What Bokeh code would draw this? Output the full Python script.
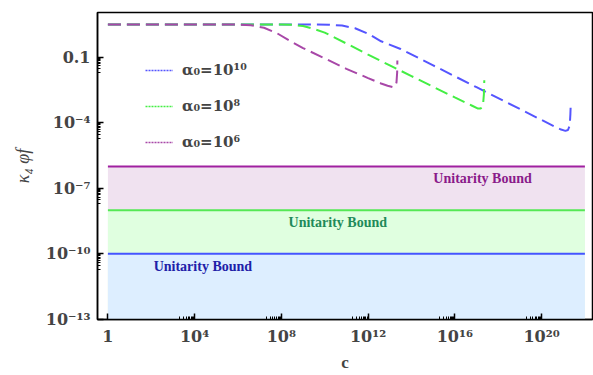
from bokeh.plotting import figure
from bokeh.models import (Range1d, FixedTicker, CustomJSTickFormatter,
                          Label, Legend, LegendItem)
from bokeh.embed import file_html
from bokeh.resources import INLINE

# ---- data ----
c_a10 = [1, 1e4, 1e8, 3.16e9, 1.58e10, 6.31e10, 2.51e11, 1e12, 3.98e12, 3.16e13,
         1e15, 1e17, 1e19, 3.98e20, 7.94e20, 1.26e21, 1.66e21, 2.0e21, 2.14e21, 2.24e21]
phi_a10 = [3.2, 3.2, 3.2, 3.16, 3.09, 2.82, 2.14, 1.2, 0.54, 0.24,
           0.0427, 4.27e-3, 4.27e-4, 6.76e-5, 4.9e-5, 4.27e-5, 4.68e-5, 7.59e-5, 2.51e-4, 8.9e-4]

c_a8 = [1, 1e4, 1e8, 3.16e8, 1e9, 3.16e9, 1e10, 2.51e10, 1e11, 1e12, 1e13, 1e14,
        1e15, 1e16, 6.31e16, 1.12e17, 1.58e17, 2.0e17, 2.19e17, 2.29e17]
phi_a8 = [3.2, 3.2, 3.2, 3.09, 2.69, 2.0, 1.35, 0.85, 0.427, 0.132, 0.0427, 0.0138,
          4.47e-3, 1.45e-3, 6.03e-4, 4.57e-4, 4.47e-4, 6.61e-4, 2.0e-3, 8.91e-3]

c_a6 = [1, 1e4, 1e6, 3.98e6, 1.58e7, 6.31e7, 2.51e8, 1e9, 1e10, 1e11, 1e12, 3.98e12,
        7.94e12, 1.35e13, 1.78e13, 2.04e13, 2.19e13, 2.24e13]
phi_a6 = [3.2, 3.2, 3.16, 2.95, 2.24, 1.26, 0.562, 0.263, 0.0891, 0.0295, 0.0112, 6.31e-3,
          5.01e-3, 4.37e-3, 4.68e-3, 7.08e-3, 0.02, 0.0708]

bound_levels = [1e-6, 1e-8, 1e-10]          # purple, green, blue
bound_x = [1, 1e22]
bound_floor = 9.9e-14
bound_text = "Unitarity Bound"
bound_text_x = [1.9e17, 4e10, 2.4e4]
bound_text_y = [2.7e-7, 2.6e-9, 2.6e-11]

legend_labels = ["α₀=10¹⁰", "α₀=10⁸", "α₀=10⁶"]

x_ticks = [1, 1e4, 1e8, 1e12, 1e16, 1e20]
x_tick_labels = ["1", "10⁴", "10⁸", "10¹²", "10¹⁶", "10²⁰"]
y_ticks = [1e-13, 1e-10, 1e-7, 1e-4, 0.1]
y_tick_labels = ["10⁻¹³", "10⁻¹⁰", "10⁻⁷", "10⁻⁴", "0.1"]

# ---- styles ----
curve_colors = ["#5555ff", "#44ee44", "#a848a8"]
line_colors = ["#a020a0", "#55e855", "#4455ff"]
fill_colors = ["#f0e2f0", "#e0ffe0", "#ddeeff"]
text_colors = ["#8a1a8a", "#1f8a5a", "#2020a8"]
sup_font = "DejaVu Serif"

p = figure(width=593, height=375, x_axis_type="log", y_axis_type="log",
           x_range=Range1d(10 ** -0.48, 10 ** 22.35),
           y_range=Range1d(bound_floor, 10 ** 1.05),
           output_backend="svg", toolbar_location=None,
           min_border_left=97, min_border_right=1, min_border_top=12, min_border_bottom=56)
p.grid.visible = False
p.outline_line_color = "black"
p.outline_line_width = 1.5
p.background_fill_color = "white"
p.border_fill_color = "white"

# bands
for lvl, fc in zip(bound_levels, fill_colors):
    p.varea(x=bound_x, y1=[bound_floor, bound_floor], y2=[lvl, lvl], fill_color=fc)
for lvl, lc in zip(bound_levels, line_colors):
    p.line(x=bound_x, y=[lvl, lvl], line_color=lc, line_width=2)

for tx, ty, tc in zip(bound_text_x, bound_text_y, text_colors):
    p.add_layout(Label(x=tx, y=ty, text=bound_text, text_color=tc,
                       text_font="Liberation Serif", text_font_style="bold",
                       text_font_size="14px", text_align="center", text_baseline="middle"))

# curves
for cx, cy, col in zip([c_a10, c_a8, c_a6], [phi_a10, phi_a8, phi_a6], curve_colors):
    p.line(x=cx, y=cy, line_color=col, line_width=2, line_dash="13 6")

# legend proxies (no visible data, only for the legend glyphs)
items = []
for lab, col in zip(legend_labels, curve_colors):
    r = p.line(x=[float("nan")], y=[float("nan")], line_color=col, line_width=1.3,
               line_dash="2 1")
    items.append(LegendItem(label=lab, renderers=[r]))
legend = Legend(items=items, location=(48, 167), orientation="vertical",
                background_fill_alpha=0, border_line_alpha=0,
                glyph_width=28, glyph_height=20, label_height=20, label_standoff=9,
                spacing=16, padding=0, margin=0,
                label_text_font=sup_font, label_text_font_style="bold",
                label_text_font_size="15px")
p.add_layout(legend)

# ticks
x_minor = [k * t / 10 for t in x_ticks[1:] for k in range(2, 10)]
y_minor = [k * t / 10 for t in y_ticks[1:] for k in range(2, 10)]

fmt_code = """
let best = -1, bd = 1e9;
for (let i = 0; i < tv.length; i++) {
  const d = Math.abs(Math.log10(tv[i]) - Math.log10(tick));
  if (d < bd) { bd = d; best = i; }
}
return (bd < 1e-3) ? tl[best] : "";
"""


def style_axis(ax, ticks, minor, labels):
    ax.ticker = FixedTicker(ticks=ticks, minor_ticks=minor)
    ax.formatter = CustomJSTickFormatter(args=dict(tv=ticks, tl=labels), code=fmt_code)
    ax.major_tick_in = 6
    ax.major_tick_out = 0
    ax.minor_tick_in = 3
    ax.minor_tick_out = 0
    ax.axis_line_width = 1.5
    ax.axis_line_color = "black"
    ax.major_tick_line_width = 1.5
    ax.minor_tick_line_width = 1
    ax.major_label_text_font = sup_font
    ax.major_label_text_font_style = "bold"
    ax.major_label_text_font_size = "16px"
    ax.major_label_standoff = 7


style_axis(p.xaxis[0], x_ticks, x_minor, x_tick_labels)
style_axis(p.yaxis[0], y_ticks, y_minor, y_tick_labels)
p.xaxis[0].axis_label = "c"
p.xaxis[0].axis_label_text_font = "Liberation Serif"
p.xaxis[0].axis_label_text_font_style = "bold"
p.xaxis[0].axis_label_text_font_size = "17px"
p.xaxis[0].axis_label_standoff = 4
p.yaxis[0].axis_label = "κ₄ φf"
p.yaxis[0].axis_label_text_font = "Liberation Serif"
p.yaxis[0].axis_label_text_font_style = "italic"
p.yaxis[0].axis_label_text_font_size = "18px"
p.yaxis[0].axis_label_standoff = 10

open("out.html", "w").write(file_html(p, INLINE))
